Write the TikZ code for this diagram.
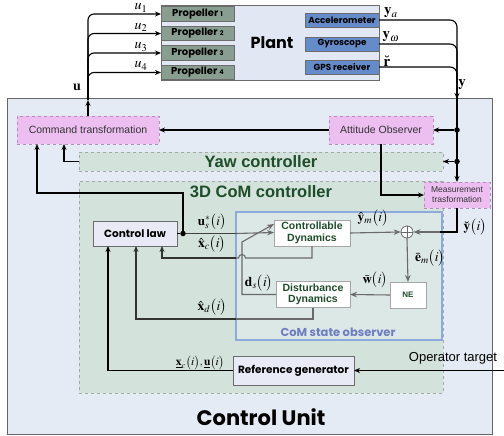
\documentclass[tikz,border=0pt]{standalone}
\usepackage{mathptmx}
\usepackage{fontspec}
\usepackage{amsmath}
\usetikzlibrary{arrows.meta,calc}
\newfontfamily\futura{Poppins}
\newfontfamily\arialf{Liberation Sans}
\definecolor{cuFill}{HTML}{E5EBF4}
\definecolor{plantFill}{HTML}{E1E8F3}
\definecolor{propFill}{HTML}{889E90}
\definecolor{sensFill}{HTML}{648CCB}
\definecolor{pinkFill}{HTML}{EDBFF1}
\definecolor{pinkLine}{HTML}{B58DBA}
\definecolor{greenFill}{HTML}{D3E2DA}
\definecolor{dashGray}{HTML}{A3A9A8}
\definecolor{obsLine}{HTML}{8EA9DB}
\definecolor{obsFill}{HTML}{DCE8E5}
\definecolor{lavFill}{HTML}{E8EAF5}
\definecolor{darkGreen}{HTML}{1E4D2B}
\definecolor{obsText}{HTML}{6E7CC0}
\definecolor{gline}{HTML}{6A6A6A}
\tikzset{
  box/.style={draw=#1, inner sep=0pt, outer sep=0pt, align=center},
  plainbox/.style={box=gray!85!black, line width=0.8pt},
  propbox/.style={plainbox, fill=propFill, minimum width=73, minimum height=14.5, font=\futura\bfseries\fontsize{10}{10}\selectfont},
  sensbox/.style={plainbox, fill=sensFill, minimum width=74, minimum height=14, font=\futura\bfseries\fontsize{8.8}{9}\selectfont},
  pinkbox/.style={box=pinkLine, dashed, line width=0.7pt, fill=pinkFill, font=\arialf\fontsize{10.5}{12}\selectfont, text=black!80},
  greenbox/.style={box=dashGray, dashed, line width=0.7pt, fill=greenFill},
  lavbox/.style={plainbox, fill=lavFill, font=\futura\bfseries\fontsize{10.5}{11}\selectfont},
  whitebox/.style={box=gray!70, line width=0.7pt, fill=white, font=\arialf\bfseries\fontsize{10.5}{11.5}\selectfont, text=darkGreen},
  conn/.style={line width=1.1pt, -{Stealth[length=6pt,width=5pt]}},
  plain/.style={line width=1.1pt},
  gconn/.style={line width=1.1pt, draw=gline, -{Stealth[length=7pt,width=5.5pt]}},
  gplain/.style={line width=1.1pt, draw=gline},
  jdot/.style={circle, fill=black, inner sep=0pt, minimum size=5.5pt},
  lbl/.style={inner sep=0pt, font=\fontsize{13.5}{14}\selectfont},
}
\begin{document}
\begin{tikzpicture}[x=1pt,y=-1pt]
\useasboundingbox (0,0) rectangle (504,436);
% Control unit
\node[box=gray!80!black, line width=1pt, fill=cuFill, minimum width=485, minimum height=335] (cu) at (249.5,266.5) {};
\node[inner sep=0pt, font=\futura\bfseries\fontsize{21}{22}\selectfont] (cut) at (261,417) {Control Unit};
% Plant
\node[plainbox, fill=plantFill, minimum width=218, minimum height=75] (plant) at (270,42.5) {};
\node[inner sep=0pt, font=\futura\bfseries\fontsize{16}{17}\selectfont] (plantt) at (272,43) {Plant};
\node[propbox] (p1) at (197.5,14) {Propeller {\fontsize{6.5}{6}\selectfont 1}};
\node[propbox] (p2) at (197.5,33.5) {Propeller {\fontsize{6.5}{6}\selectfont 2}};
\node[propbox] (p3) at (197.5,53) {Propeller {\fontsize{6.5}{6}\selectfont 3}};
\node[propbox] (p4) at (197.5,72.5) {Propeller {\fontsize{6.5}{6}\selectfont 4}};
\node[sensbox] (acc) at (342,20) {Accelerometer};
\node[sensbox] (gyr) at (342,44) {Gyroscope};
\node[sensbox] (gps) at (342,67) {GPS receiver};
% Control unit blocks
\node[pinkbox, minimum width=142, minimum height=28] (ct) at (88,130) {Command transformation};
\node[pinkbox, minimum width=104, minimum height=28] (ao) at (381,130) {Attitude Observer};
\node[greenbox, minimum width=364, minimum height=19] (yaw) at (261,161.5) {};
\node[inner sep=0pt, font=\arialf\bfseries\fontsize{16.5}{17}\selectfont, text=darkGreen] (yawt) at (261,162) {Yaw controller};
\node[greenbox, minimum width=364, minimum height=212] (com) at (261,287) {};
\node[inner sep=0pt, font=\arialf\bfseries\fontsize{16.5}{17}\selectfont, text=darkGreen] (comt) at (261,192) {3D CoM controller};
\node[pinkbox, minimum width=66, minimum height=26, font=\arialf\fontsize{8.5}{10}\selectfont] (mt) at (457,195) {Measurement\\trasformation};
% observer
\node[box=obsLine, line width=2pt, fill=obsFill, minimum width=206, minimum height=128] (obs) at (339,276) {};
\node[inner sep=0pt, font=\futura\bfseries\fontsize{11.5}{12}\selectfont, text=obsText] (obst) at (338,332) {CoM state observer};
\node[whitebox, minimum width=76, minimum height=26] (cd) at (312,233) {Controllable\\Dynamics};
\node[whitebox, minimum width=74, minimum height=26] (dd) at (313,294.5) {Disturbance\\Dynamics};
\node[whitebox, minimum width=36, minimum height=26, font=\arialf\bfseries\fontsize{8}{9}\selectfont] (ne) at (408,295) {NE};
\node[circle, draw=gline, line width=0.8pt, fill=white, minimum size=12pt, inner sep=0pt] (sum) at (407,232) {};
\draw[gline, line width=0.8pt] (sum.north) -- (sum.south) (sum.west) -- (sum.east);
\node[lavbox, minimum width=84, minimum height=25] (cl) at (135,233.5) {Control law};
\node[lavbox, minimum width=121, minimum height=29] (rg) at (293.5,370.5) {Reference generator};
% coordinates
\coordinate (utop) at (88,100);
\coordinate (ytop) at (457,99);
\coordinate (opin) at (504,370.5);
\node[jdot] (j1) at (457,130) {};
\node[jdot] (j2) at (457,161.5) {};
\node[jdot] (j3) at (183,233.5) {};
% u lines
\draw[conn] (ct.north) -- (utop);
\draw[conn, rounded corners=6] (utop) |- (p1.west);
\draw[conn, rounded corners=6] (utop) |- (p2.west);
\draw[conn, rounded corners=6] (utop) |- (p3.west);
\draw[conn, rounded corners=6] (utop) |- (p4.west);
\node[lbl, font=\fontsize{14}{14}\selectfont] (lu1) at (141,8) {$u_1$};
\node[lbl, font=\fontsize{14}{14}\selectfont] (lu2) at (141,27.5) {$u_2$};
\node[lbl, font=\fontsize{14}{14}\selectfont] (lu3) at (141,47) {$u_3$};
\node[lbl, font=\fontsize{14}{14}\selectfont] (lu4) at (141,66) {$u_4$};
\node[lbl, font=\fontsize{14}{14}\selectfont] (lu) at (77,87) {$\mathbf{u}$};
% y lines
\draw[plain, rounded corners=7] (acc.east) -| (ytop);
\draw[plain, rounded corners=7] (gyr.east) -| (ytop);
\draw[conn, rounded corners=7] (gps.east) -| (ytop);
\node[lbl, font=\fontsize{15}{15}\selectfont] (lya) at (391,13) {$\mathbf{y}_a$};
\node[lbl, font=\fontsize{15}{15}\selectfont] (lyw) at (391,37) {$\mathbf{y}_\omega$};
\node[lbl, font=\fontsize{15}{15}\selectfont] (lr) at (387,61) {$\breve{\mathbf{r}}$};
\node[lbl, font=\fontsize{15}{15}\selectfont] (ly) at (462,85) {$\mathbf{y}$};
\draw[conn] (ytop) -- (mt.north);
\draw[conn] (j1) -- (ao.east);
\draw[conn] (j2) -- (yaw.east);
\draw[conn] (ao.west) -- (ct.east);
\draw[conn] (ao.south) |- (mt.west);
\draw[conn] (yaw.west) -| ([xshift=-24pt]ct.south);
% control law output
\draw[plain] (cl.east) -- (j3);
\draw[conn] (j3) |- (37,193) -- ([xshift=-51pt]ct.south);
\draw[line width=1.1pt, draw=black!75] (j3) -- (236,233.5);
\draw[gconn] (236,233.5) -- ([yshift=0.5pt]cd.west);
\node[lbl, font=\fontsize{13}{13}\selectfont] (lus) at (212,222) {$\mathbf{u}_s^*\bigl(i\bigr)$};
% observer internals
\draw[gconn] (cd.east) -- (sum.west);
\node[lbl] (lym) at (373,218) {$\hat{\mathbf{y}}_m\bigl(i\bigr)$};
\draw[line width=1.1pt] (mt.south) |- (440,232);
\draw[gconn] (440,232) -- (sum.east);
\node[lbl] (lyb) at (475,227) {$\breve{\mathbf{y}}\bigl(i\bigr)$};
\draw[gconn] (sum.south) -- (ne.north);
\node[lbl] (lem) at (430,258) {$\bar{\mathbf{e}}_m\bigl(i\bigr)$};
\draw[gconn] (ne.west) -- (dd.east);
\node[lbl, font=\fontsize{13}{13}\selectfont] (lw) at (375,280) {$\bar{\mathbf{w}}\bigl(i\bigr)$};
\draw[gconn] (dd.west) -| (242,242) -- ([yshift=9pt]cd.west);
\node[lbl] (lds) at (259,283) {$\mathbf{d}_s\bigl(i\bigr)$};
\draw[gplain] (cd.south) |- (245.5,258) arc[start angle=0, end angle=180, radius=3.5pt] -- (236,258);
\draw[conn, draw=black!80] (236,258) -| ([xshift=27pt]cl.south);
\node[lbl] (lxc) at (212,244) {$\hat{\mathbf{x}}_c\bigl(i\bigr)$};
\draw[gplain] (dd.south) |- (236,319);
\draw[conn, draw=black!80] (236,319) -| ([xshift=1pt]cl.south);
\node[lbl] (lxd) at (212,307) {$\hat{\mathbf{x}}_d\bigl(i\bigr)$};
% reference
\draw[conn] (rg.west) -| ([xshift=-27pt]cl.south);
\node[lbl, font=\fontsize{11.5}{12}\selectfont] (lref) at (200,363) {$\underline{\mathbf{x}}_c\bigl(i\bigr),\underline{\mathbf{u}}\bigl(i\bigr)$};
\draw[conn] (opin) -- (rg.east);
\node[inner sep=0pt, font=\arialf\fontsize{13}{13}\selectfont] (opt) at (453,358) {Operator target};
\end{tikzpicture}
\end{document}
